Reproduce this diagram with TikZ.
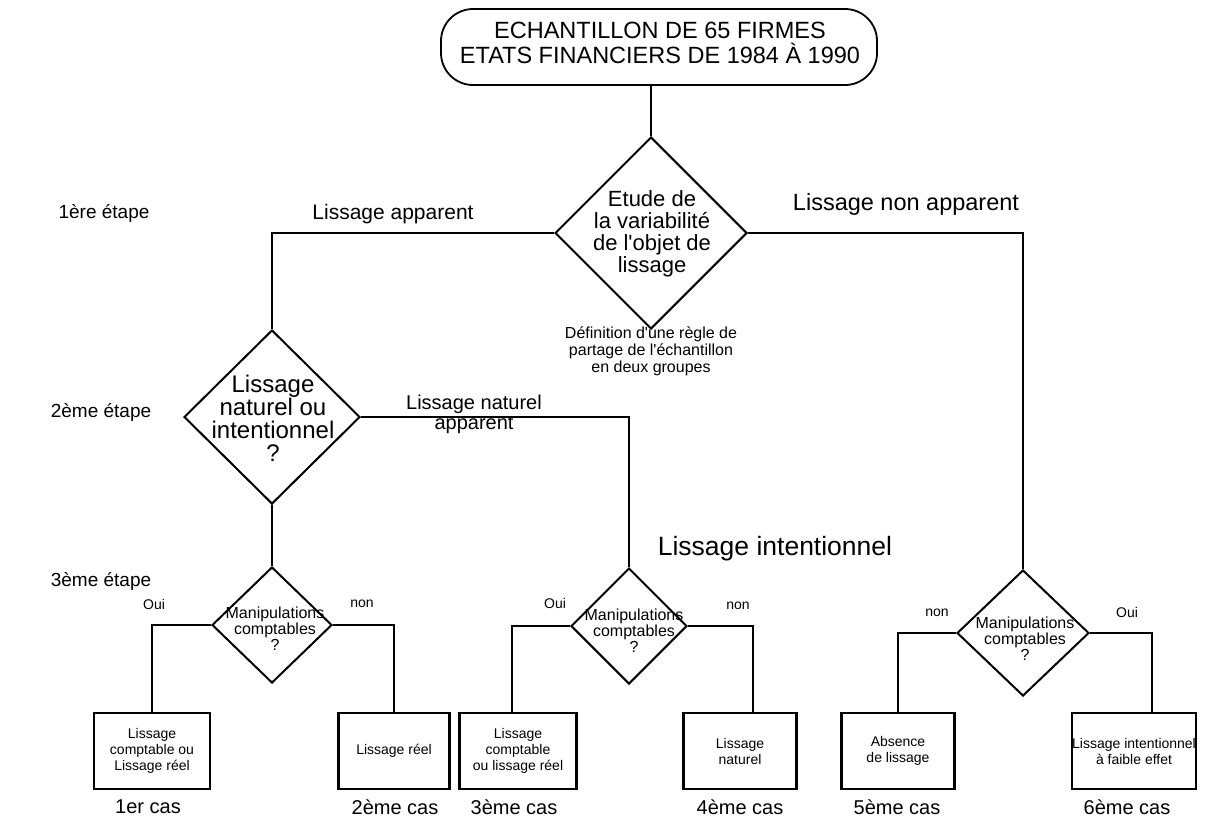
\documentclass[tikz,border=0pt]{standalone}
\usepackage{fontspec}
\setmainfont{Liberation Sans}
\usetikzlibrary{shapes.geometric}
\newcommand{\fsz}[2]{\fontsize{#1}{#2}\selectfont}
\begin{document}
\begin{tikzpicture}[x=1pt,y=-1pt,
  dmd/.style={draw, diamond, line width=2pt, inner sep=0pt},
  box/.style={draw, rectangle, line width=2.2pt, minimum height=76pt, inner sep=1pt, align=center, font=\fsz{14}{16}},
  conn/.style={line width=1.8pt},
  lbl/.style={inner sep=0pt, align=center},
  big/.style={lbl, font=\fsz{21}{21}},
  etape/.style={lbl, font=\fsz{19}{19}},
  yn/.style={lbl, font=\fsz{14}{14}},
  cas/.style={lbl, font=\fsz{20}{20}},
  mc/.style={lbl, font=\fsz{16}{16}}]
\useasboundingbox (0,0) rectangle (1228,825);
\fill[white] (0,0) rectangle (1228,825);

% title
\node[draw, rounded corners=32pt, line width=1.8pt, minimum width=436pt, minimum height=76pt] (top) at (659,47) {};
\node[lbl, font=\fsz{23.5}{24.5}] (topt) at (660,43) {ECHANTILLON DE 65 FIRMES\\ETATS FINANCIERS DE 1984 À 1990};

% diamonds
\node[dmd, minimum width=192pt, minimum height=192pt] (d1) at (651,233) {};
\node[lbl, font=\fsz{22}{22}] (d1t) at (652,234) {Etude de\\la variabilité\\de l\textquotesingle objet de\\lissage};
\node[dmd, minimum width=176pt, minimum height=174pt] (d2) at (272,417) {};
\node[lbl, font=\fsz{24}{23}] (d2t) at (273,418) {Lissage\\naturel ou\\intentionnel\\?};
\node[dmd, minimum width=120pt, minimum height=116pt] (d3) at (272,625) {};
\node[mc] (d3t) at (275,629) {Manipulations\\comptables\\?};
\node[dmd, minimum width=116pt, minimum height=116pt] (d4) at (629,626) {};
\node[mc] (d4t) at (634,631) {Manipulations\\comptables\\?};
\node[dmd, minimum width=132pt, minimum height=126pt] (d5) at (1023,633) {};
\node[mc] (d5t) at (1025,639) {Manipulations\\comptables\\?};

% boxes
\node[box, minimum width=116pt] (b1) at (152,751) {Lissage\\comptable ou\\Lissage réel};
\node[box, minimum width=111pt] (b2) at (394,751) {Lissage réel};
\node[box, minimum width=117pt] (b3) at (518,751) {Lissage\\comptable\\ou lissage réel};
\node[box, minimum width=113pt] (b4) at (740,751) {Lissage\\naturel};
\node[box, minimum width=113pt] (b5) at (898,751) {Absence\\de lissage};
\node[box, minimum width=118pt, inner sep=0pt] (b6) at (1134,751) {Lissage intentionnel\\à faible effet};

% connectors
\draw[conn] (top.south -| d1.north) -- (d1.north);
\draw[conn] (d1.west) -| (d2.north);
\draw[conn] (d1.east) -| (d5.north);
\draw[conn] (d2.east) -| (d4.north);
\draw[conn] (d2.south) -- (d3.north);
\draw[conn] (d3.west) -| (b1.north);
\draw[conn] (d3.east) -| (b2.north);
\draw[conn] (d4.west) -| ([xshift=-6pt]b3.north);
\draw[conn] (d4.east) -| ([xshift=13pt]b4.north);
\draw[conn] (d5.west) -| (b5.north);
\draw[conn] (d5.east) -| ([xshift=18pt]b6.north);

% labels
\node[etape] (e1) at (104,213) {1ère étape};
\node[etape] (e2) at (101,412) {2ème étape};
\node[etape] (e3) at (101,581) {3ème étape};
\node[big] (la) at (393,214) {Lissage apparent};
\node[lbl, font=\fsz{23.5}{23.5}] (lna) at (906,204) {Lissage non apparent};
\node[lbl, font=\fsz{16}{17}] (note) at (651,351) {Définition d\textquotesingle une règle de\\partage de l\textquotesingle échantillon\\en deux groupes};
\node[lbl, font=\fsz{20}{20}] (lnat) at (474,414) {Lissage naturel\\apparent};
\node[lbl, font=\fsz{26.5}{26.5}] (lint) at (775,549) {Lissage intentionnel};
\node[yn] (o3) at (154,604) {Oui};
\node[yn] (n3) at (362,604) {non};
\node[yn] (o4) at (555,603) {Oui};
\node[yn] (n4) at (738,606) {non};
\node[yn] (n5) at (937,613) {non};
\node[yn] (o5) at (1127,612) {Oui};
\node[cas] (c1) at (148,807) {1er cas};
\node[cas] (c2) at (395,807) {2ème cas};
\node[cas] (c3) at (514,807) {3ème cas};
\node[cas] (c4) at (740,807) {4ème cas};
\node[cas] (c5) at (897,807) {5ème cas};
\node[cas] (c6) at (1127,807) {6ème cas};
\end{tikzpicture}
\end{document}
